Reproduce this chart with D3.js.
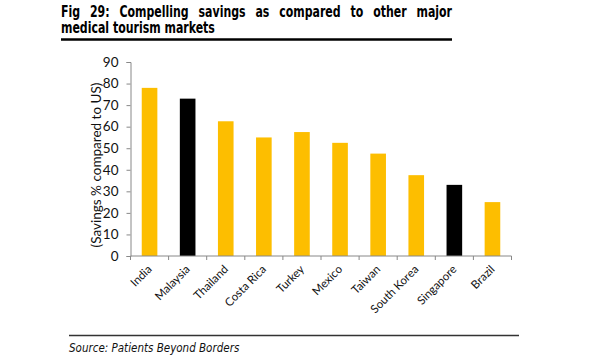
<!DOCTYPE html>
<html>
<head>
<meta charset="utf-8">
<script src="https://cdn.jsdelivr.net/npm/d3@7"></script>
<style>
  body { margin: 0; background: #fff; }
  svg { display: block; }
</style>
</head>
<body>
<svg id="chart" width="600" height="360"></svg>
<script>
// data
const countries = ["India", "Malaysia", "Thailand", "Costa Rica", "Turkey", "Mexico", "Taiwan", "South Korea", "Singapore", "Brazil"];
const savings = [78, 73, 62.5, 55, 57.5, 52.5, 47.5, 37.5, 33, 25];
const highlighted = ["Malaysia", "Singapore"];
const yTicks = [0, 10, 20, 30, 40, 50, 60, 70, 80, 90];

const titleLines = ["Fig 29: Compelling savings as compared to other major", "medical tourism markets"];
const yLabel = "(Savings % compared to US)";
const sourceText = "Source: Patients Beyond Borders";

const svg = d3.select("#chart");
svg.append("rect").attr("width", 600).attr("height", 360).attr("fill", "#fff");

const margin = {left: 130.5, right: 511.5, top: 62, bottom: 256};

const x = d3.scaleBand()
  .domain(countries)
  .range([margin.left, margin.right])
  .paddingInner(0.59)
  .paddingOuter(0.295);

const y = d3.scaleLinear()
  .domain([0, 90])
  .range([margin.bottom, margin.top]);

// title: narrow bold face, squeezed horizontally so line 2 spans 61..215
const titleFont = "'DejaVu Sans Condensed', 'DejaVu Sans', sans-serif";
const titleSize = 15.5;
const t2 = svg.append("text")
  .attr("font-family", titleFont)
  .attr("font-weight", "bold")
  .attr("font-size", titleSize)
  .attr("fill", "#000")
  .text(titleLines[1]);
const sx = 154 / t2.node().getComputedTextLength();
t2.attr("transform", `translate(61,33) scale(${sx},1)`);

const t1 = svg.append("text")
  .attr("transform", `translate(61,17) scale(${sx},1)`)
  .attr("font-family", titleFont)
  .attr("font-weight", "bold")
  .attr("font-size", titleSize)
  .attr("fill", "#000")
  .text(titleLines[0]);
// justify line 1 by spreading the spaces
const w1 = t1.node().getComputedTextLength();
const nSpaces = titleLines[0].split(" ").length - 1;
t1.attr("word-spacing", Math.max(0, ((452 - 61) / sx - w1) / nSpaces));

svg.append("line")
  .attr("x1", 61).attr("x2", 452)
  .attr("y1", 39.5).attr("y2", 39.5)
  .attr("stroke", "#000")
  .attr("stroke-width", 2.5);

// bars
svg.append("g")
  .selectAll("rect")
  .data(countries)
  .join("rect")
    .attr("x", d => x(d))
    .attr("width", x.bandwidth())
    .attr("y", (d, i) => y(savings[i]))
    .attr("height", (d, i) => y(0) - y(savings[i]))
    .attr("fill", d => highlighted.includes(d) ? "#000" : "#FDBE00");

const axisFont = "Lato, 'Open Sans', sans-serif";

// y axis
const yAxis = svg.append("g")
  .attr("transform", `translate(${margin.left},0)`)
  .call(d3.axisLeft(y).tickValues(yTicks).tickSize(4).tickPadding(8));
yAxis.select(".domain").attr("stroke", "#888");
yAxis.selectAll(".tick line").attr("stroke", "#888");
yAxis.selectAll(".tick text")
  .attr("font-family", axisFont)
  .attr("font-size", 13.5)
  .attr("fill", "#111");

// x axis: baseline, boundary ticks, rotated labels
const gap = x.step() - x.bandwidth();
const bounds = countries.map(d => x(d) - gap / 2).concat([margin.right]);
const xAxis = svg.append("g");
xAxis.append("line")
  .attr("x1", margin.left).attr("x2", margin.right)
  .attr("y1", y(0)).attr("y2", y(0))
  .attr("stroke", "#888");
xAxis.selectAll("line.tk")
  .data(bounds)
  .join("line")
    .attr("class", "tk")
    .attr("x1", d => d).attr("x2", d => d)
    .attr("y1", y(0)).attr("y2", y(0) + 4)
    .attr("stroke", "#888");
xAxis.selectAll("text")
  .data(countries)
  .join("text")
    .attr("transform", d => `translate(${x(d) + x.bandwidth() / 2 + 3},${y(0) + 14}) rotate(-45)`)
    .attr("text-anchor", "end")
    .attr("font-family", axisFont)
    .attr("font-size", 11.5)
    .attr("fill", "#111")
    .text(d => d);

// y label, squeezed along its length to span about 165px like the figure
const yl = svg.append("text")
  .attr("text-anchor", "middle")
  .attr("font-family", axisFont)
  .attr("font-size", 13)
  .attr("fill", "#111")
  .text(yLabel);
const ky = 165 / yl.node().getComputedTextLength();
yl.attr("transform", `translate(101,165) rotate(-90) scale(${ky},1)`);

// footer
svg.append("line")
  .attr("x1", 69).attr("x2", 519)
  .attr("y1", 335.5).attr("y2", 335.5)
  .attr("stroke", "#333")
  .attr("stroke-width", 1.5);

svg.append("text")
  .attr("x", 69).attr("y", 352)
  .attr("font-family", "'DejaVu Sans Condensed', 'DejaVu Sans', sans-serif")
  .attr("font-style", "italic")
  .attr("font-size", 11.5)
  .attr("fill", "#111")
  .text(sourceText);
</script>
</body>
</html>
